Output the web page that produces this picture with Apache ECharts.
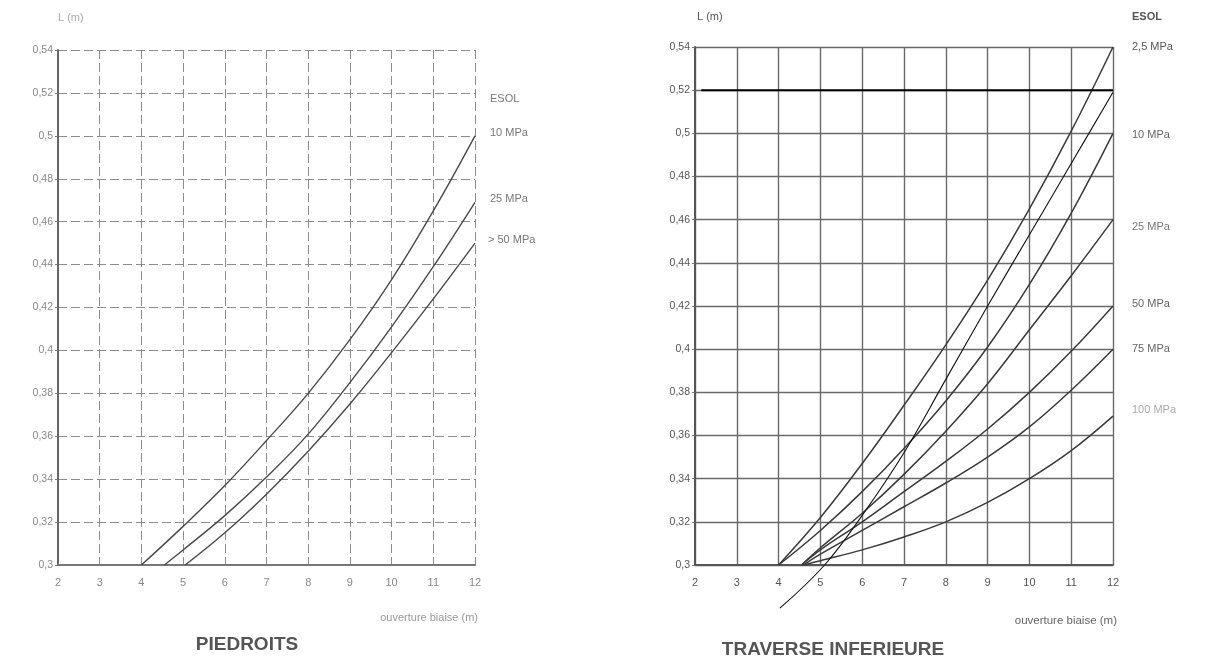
<!DOCTYPE html>
<html>
<head>
<meta charset="utf-8">
<script src="https://cdn.jsdelivr.net/npm/echarts@6/dist/echarts.min.js"></script>
<style>
html,body{margin:0;padding:0;background:#fff;}
#c{width:1225px;height:671px;}
</style>
</head>
<body>
<div id="c"></div>
<script>
// ---- data (x = ouverture biaise (m), y = L (m)) ----
const xMin = 2, xMax = 12, xStep = 1;
const yMin = 0.3, yMax = 0.54, yStep = 0.02;

// PIEDROITS
const pied10 = [[4,0.300],[5,0.318],[6,0.337],[7,0.358],[8,0.380],[9,0.405],[10,0.433],[11,0.465],[12,0.500]];
const pied25 = [[4.55,0.300],[5,0.307],[6,0.323],[7,0.341],[8,0.361],[9,0.385],[10,0.411],[11,0.439],[12,0.469]];
const pied50 = [[5.05,0.300],[6,0.315],[7,0.333],[8,0.353],[9,0.375],[10,0.399],[11,0.424],[12,0.450]];
const piedLabels = ['ESOL', '10 MPa', '25 MPa', '> 50 MPa'];

// TRAVERSE INFERIEURE
const trav2_5 = [[4,0.300],[5,0.322],[6,0.347],[7,0.374],[8,0.402],[9,0.432],[10,0.465],[11,0.501],[12,0.540]];
const trav10  = [[4,0.300],[5,0.316],[6,0.334],[7,0.354],[8,0.376],[9,0.401],[10,0.430],[11,0.463],[12,0.500]];
const trav25  = [[4.55,0.300],[5,0.308],[6,0.324],[7,0.342],[8,0.362],[9,0.384],[10,0.409],[11,0.434],[12,0.460]];
const trav50  = [[4.55,0.300],[5,0.307],[6,0.320],[7,0.334],[8,0.348],[9,0.363],[10,0.380],[11,0.399],[12,0.420]];
const trav75  = [[4.6,0.300],[5,0.305],[6,0.316],[7,0.327],[8,0.338],[9,0.350],[10,0.364],[11,0.381],[12,0.400]];
const trav100 = [[4.6,0.300],[5,0.302],[6,0.307],[7,0.313],[8,0.320],[9,0.329],[10,0.340],[11,0.353],[12,0.369]];
const travLine  = [[4.03,0.280],[5.1,0.300],[6,0.323],[7,0.352],[8,0.386],[9,0.420],[10,0.453],[11,0.486],[12,0.519]];
const travLimit = [[2.15,0.52],[12,0.52]];
const travLabels = ['ESOL', '2,5 MPa', '10 MPa', '25 MPa', '50 MPa', '75 MPa', '100 MPa'];

const titles = ['PIEDROITS', 'TRAVERSE INFERIEURE'];
const yName = 'L (m)';
const xName = 'ouverture biaise (m)';

// ---- chart ----
const chart = echarts.init(document.getElementById('c'), null, {renderer: 'canvas'});
const fmtY = v => String(Number(v.toFixed(2))).replace('.', ',');
const FONT = 'Liberation Sans, DejaVu Sans, sans-serif';

function xAxisCfg(idx, dark) {
  return {
    type: 'value', gridIndex: idx, min: xMin, max: xMax, interval: xStep,
    axisLine: {show: true, onZero: false, lineStyle: {color: dark ? '#555' : '#777', width: 2}},
    axisTick: {show: false},
    axisLabel: {color: dark ? '#555' : '#888', fontSize: 11, fontFamily: FONT, margin: 12},
    splitLine: {show: true, lineStyle: dark ? {color: '#6a6a6a', width: 1.4} : {color: '#8c8c8c', width: 1, type: [9, 4]}}
  };
}
function yAxisCfg(idx, dark) {
  return {
    type: 'value', gridIndex: idx, min: yMin, max: yMax, interval: yStep,
    axisLine: {show: true, onZero: false, lineStyle: {color: dark ? '#555' : '#666', width: 2}},
    axisTick: {show: true, length: 3, lineStyle: {color: '#777'}},
    axisLabel: {color: dark ? '#555' : '#888', fontSize: 10.5, fontFamily: FONT, margin: 5, formatter: fmtY},
    splitLine: {show: true, lineStyle: dark ? {color: '#6a6a6a', width: 1.4} : {color: '#8c8c8c', width: 1, type: [9, 4]}}
  };
}
function curve(data, gi, color, width, extra) {
  return Object.assign({
    type: 'line', xAxisIndex: gi, yAxisIndex: gi, data: data,
    smooth: 0.4, showSymbol: false, symbol: 'none',
    lineStyle: {color: color, width: width}, z: 3
  }, extra || {});
}
function txt(text, x, y, opts) {
  opts = opts || {};
  return {
    type: 'text', x: x, y: y, silent: true,
    style: {
      text: text, fill: opts.fill || '#555',
      font: (opts.weight || 'normal') + ' ' + (opts.size || 12) + 'px ' + FONT,
      align: opts.align || 'left', textAlign: opts.align || 'left',
      verticalAlign: 'middle', textVerticalAlign: 'middle'
    }
  };
}

const graphics = [
  // left panel texts
  txt(yName, 58, 18, {fill: '#aaa', size: 11}),
  txt(piedLabels[0], 490, 99, {fill: '#777', size: 11}),
  txt(piedLabels[1], 490, 133, {fill: '#777', size: 11}),
  txt(piedLabels[2], 490, 199, {fill: '#777', size: 11}),
  txt(piedLabels[3], 488, 240, {fill: '#777', size: 11}),
  txt(xName, 478, 618, {fill: '#999', size: 11, align: 'right'}),
  txt(titles[0], 247, 645, {fill: '#555', size: 19, weight: 'bold', align: 'center'}),
  // right panel texts
  txt(yName, 697, 17, {fill: '#555', size: 11}),
  txt(travLabels[0], 1132, 17, {fill: '#555', size: 11, weight: 'bold'}),
  txt(travLabels[1], 1132, 47, {fill: '#555', size: 11}),
  txt(travLabels[2], 1132, 135, {fill: '#666', size: 11}),
  txt(travLabels[3], 1132, 227, {fill: '#777', size: 11}),
  txt(travLabels[4], 1132, 304, {fill: '#666', size: 11}),
  txt(travLabels[5], 1132, 349, {fill: '#666', size: 11}),
  txt(travLabels[6], 1132, 410, {fill: '#aaa', size: 11}),
  txt(xName, 1117, 621, {fill: '#666', size: 11.5, align: 'right'}),
  txt(titles[1], 833, 650, {fill: '#555', size: 19, weight: 'bold', align: 'center'})
];

chart.setOption({
  animation: false,
  backgroundColor: '#fff',
  grid: [
    {left: 58, right: 750, top: 50, bottom: 106},
    {left: 695, right: 112, top: 47, bottom: 106}
  ],
  xAxis: [xAxisCfg(0, false), xAxisCfg(1, true)],
  yAxis: [yAxisCfg(0, false), yAxisCfg(1, true)],
  graphic: graphics,
  series: [
    curve(pied10, 0, '#4a4a4a', 1.4),
    curve(pied25, 0, '#4a4a4a', 1.4),
    curve(pied50, 0, '#4a4a4a', 1.4),
    curve(trav2_5, 1, '#3a3a3a', 1.5),
    curve(trav10, 1, '#3a3a3a', 1.5),
    curve(trav25, 1, '#3a3a3a', 1.5),
    curve(trav50, 1, '#3a3a3a', 1.5),
    curve(trav75, 1, '#3a3a3a', 1.5),
    curve(trav100, 1, '#3a3a3a', 1.5),
    curve(travLine, 1, '#111', 1.1, {clip: false}),
    curve(travLimit, 1, '#000', 2, {smooth: false, z: 4})
  ]
});
</script>
</body>
</html>
